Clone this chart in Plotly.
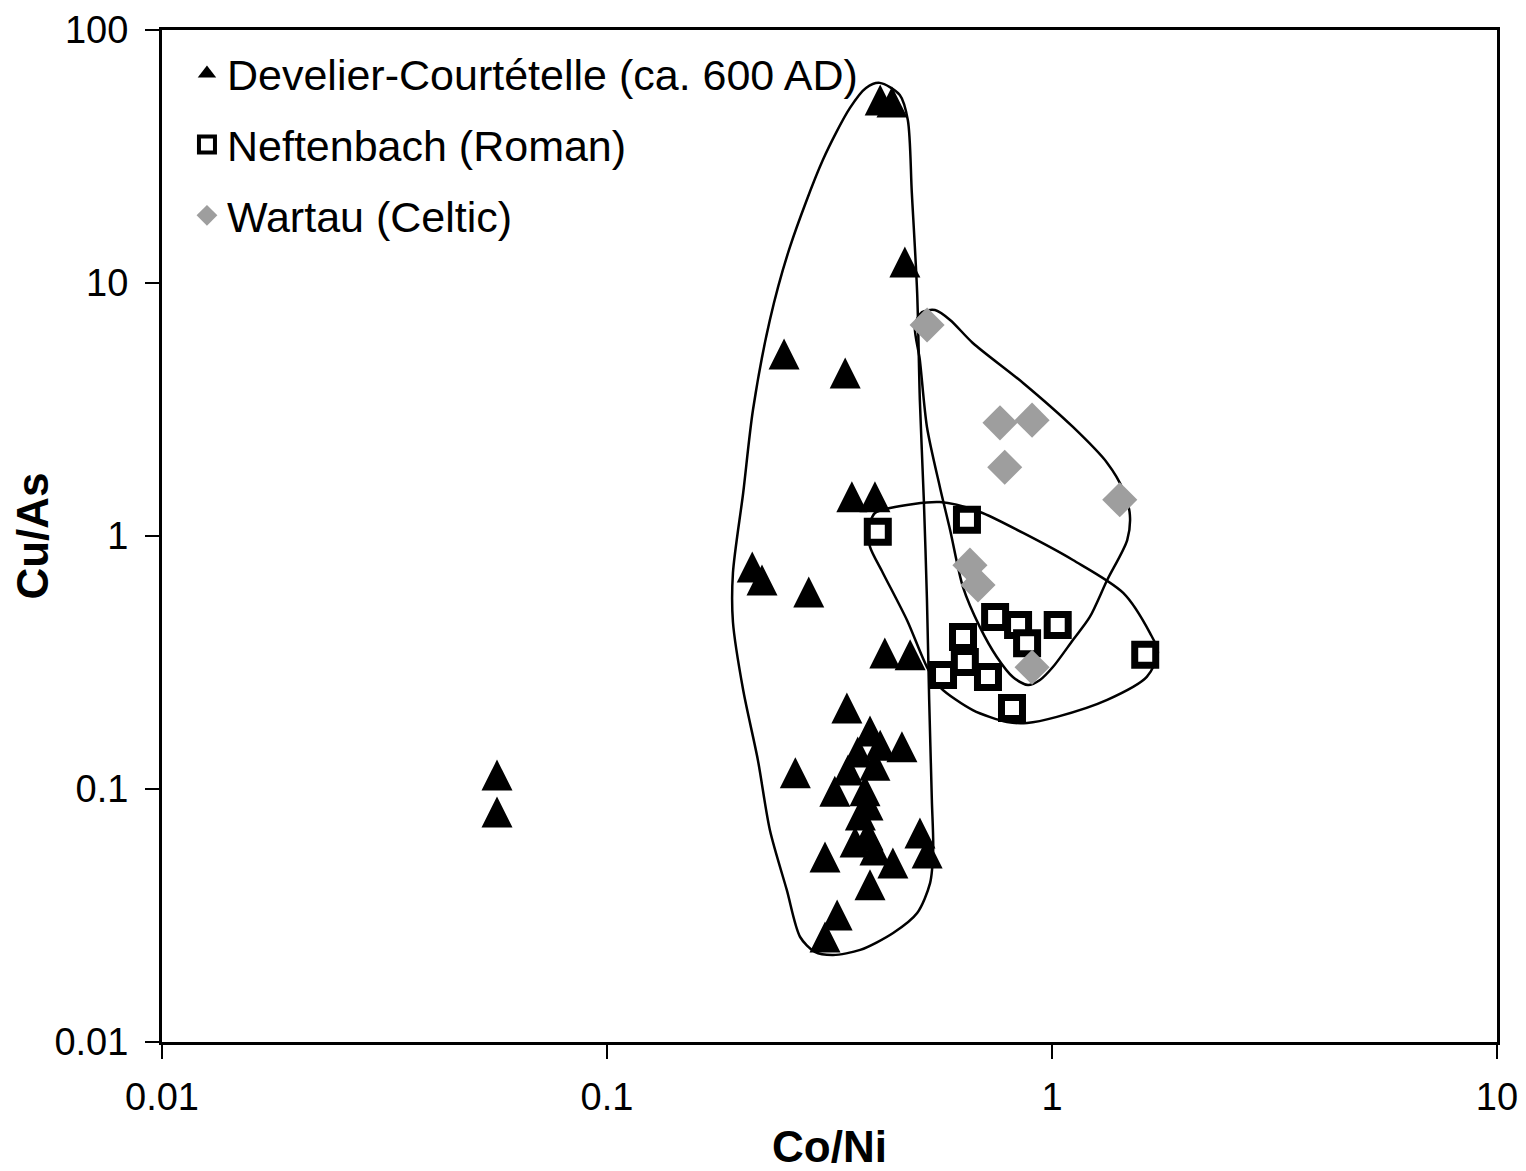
import plotly.graph_objects as go

# ---------------- data ----------------
dev_co_ni = [0.411, 0.437, 0.467, 0.250, 0.343, 0.355, 0.400, 0.212, 0.223, 0.284,
             0.421, 0.480, 0.346, 0.265, 0.460, 0.505, 0.524, 0.309, 0.439, 0.390,
             0.329, 0.309, 0.0566, 0.0566,
             0.390, 0.411, 0.366, 0.348, 0.400, 0.325, 0.380, 0.386, 0.371, 0.386,
             0.361, 0.400]
dev_cu_as = [52.9, 51.9, 12.1, 5.24, 4.41, 1.43, 1.43, 0.754, 0.670, 0.601,
             0.345, 0.339, 0.209, 0.116, 0.147, 0.0670, 0.0558, 0.0538, 0.051, 0.0418,
             0.0318, 0.026, 0.1135, 0.0811,
             0.1695, 0.149, 0.140, 0.119, 0.124, 0.098, 0.0985, 0.0865, 0.0789, 0.0658,
             0.0617, 0.0574]

nef_co_ni = [0.406, 0.644, 0.745, 0.839, 1.03, 0.631, 0.879, 0.637, 0.569, 0.718, 0.813, 1.62]
nef_cu_as = [1.04, 1.16, 0.479, 0.445, 0.445, 0.399, 0.377, 0.318, 0.282, 0.277, 0.209, 0.339]

war_co_ni = [0.524, 0.764, 0.902, 0.783, 1.42, 0.654, 0.682, 0.902]
war_cu_as = [6.82, 2.80, 2.87, 1.87, 1.39, 0.767, 0.640, 0.303]

# hand-drawn group outlines (log10 of Co/Ni, log10 of Cu/As)
dev_outline_lx = [-0.387, -0.342, -0.324, -0.315, -0.303, -0.297, -0.288, -0.281, -0.276, -0.270,
                  -0.267, -0.274, -0.303, -0.357, -0.431, -0.492, -0.533, -0.566, -0.596, -0.634,
                  -0.661, -0.694, -0.717, -0.717, -0.694, -0.672, -0.634, -0.589, -0.515, -0.454,
                  -0.418, -0.387]
dev_outline_ly = [1.791, 1.743, 1.644, 1.356, 0.960, 0.538, 0.142, -0.253, -0.648, -1.043,
                  -1.241, -1.372, -1.490, -1.569, -1.636, -1.656, -1.644, -1.585, -1.399, -1.162,
                  -0.885, -0.609, -0.340, -0.146, 0.170, 0.498, 0.854, 1.142, 1.486, 1.692,
                  1.771, 1.791]

war_outline_lx = [-0.308, -0.292, -0.263, -0.229, -0.178, -0.065, 0.047, 0.124, 0.160, 0.175,
                  0.169, 0.124, 0.085, 0.047, 0.002, -0.027, -0.054, -0.088, -0.124, -0.162,
                  -0.200, -0.229, -0.252, -0.281, -0.297, -0.308]
war_outline_ly = [0.834, 0.885, 0.893, 0.854, 0.763, 0.605, 0.431, 0.289, 0.182, 0.083,
                  -0.016, -0.174, -0.320, -0.411, -0.518, -0.569, -0.589, -0.557, -0.478, -0.360,
                  -0.202, 0.024, 0.194, 0.431, 0.696, 0.834]

nef_outline_lx = [-0.413, -0.398, -0.364, -0.252, -0.162, -0.065, 0.047, 0.160, 0.220, 0.238,
                  0.213, 0.124, 0.011, -0.056, -0.101, -0.178, -0.252, -0.281, -0.326, -0.380,
                  -0.409, -0.413]
nef_outline_ly = [0.024, 0.091, 0.111, 0.134, 0.095, 0.012, -0.095, -0.225, -0.383, -0.459,
                  -0.557, -0.648, -0.715, -0.739, -0.735, -0.688, -0.597, -0.518, -0.332, -0.146,
                  -0.043, 0.024]

series_names = ["Develier-Courtételle (ca. 600 AD)", "Neftenbach (Roman)", "Wartau (Celtic)"]
x_tick_vals = [0.01, 0.1, 1, 10]
x_tick_text = ["0.01", "0.1", "1", "10"]
y_tick_vals = [0.01, 0.1, 1, 10, 100]
y_tick_text = ["0.01", "0.1", "1", "10", "100"]

# ---------------- figure ----------------
FONT = "Liberation Sans"
fig = go.Figure()

for lx, ly in [(dev_outline_lx, dev_outline_ly), (war_outline_lx, war_outline_ly),
               (nef_outline_lx, nef_outline_ly)]:
    fig.add_trace(go.Scatter(
        x=[10 ** v for v in lx], y=[10 ** v for v in ly], mode="lines",
        line=dict(color="black", width=2.5, shape="spline", smoothing=0.8),
        showlegend=False, hoverinfo="skip"))

TRI = 31
dev_marker = dict(symbol="arrow-down", angle=180, standoff=TRI / 2, size=TRI,
                  color="black", line=dict(width=0))
nef_marker = dict(symbol="square", size=21, color="white", line=dict(color="black", width=7))
war_marker = dict(symbol="diamond", size=27, color="#9e9e9e", line=dict(width=0))

fig.add_trace(go.Scatter(x=dev_co_ni, y=dev_cu_as, mode="markers", name=series_names[0],
                         legendgroup="a", showlegend=False, marker=dev_marker))
fig.add_trace(go.Scatter(x=nef_co_ni, y=nef_cu_as, mode="markers", name=series_names[1],
                         legendgroup="b", showlegend=False, marker=nef_marker))
fig.add_trace(go.Scatter(x=war_co_ni, y=war_cu_as, mode="markers", name=series_names[2],
                         legendgroup="c", showlegend=False, marker=war_marker))

# legend entries (same series, legend glyphs only)
fig.add_trace(go.Scatter(x=[None], y=[None], mode="markers", name=series_names[0],
                         legendgroup="a", marker=dict(symbol="triangle-up", size=16, color="black")))
fig.add_trace(go.Scatter(x=[None], y=[None], mode="markers", name=series_names[1],
                         legendgroup="b", marker=dict(symbol="square", size=16, color="white",
                                                      line=dict(color="black", width=4))))
fig.add_trace(go.Scatter(x=[None], y=[None], mode="markers", name=series_names[2],
                         legendgroup="c", marker=dict(symbol="diamond", size=16, color="#9e9e9e")))

axis_common = dict(
    type="log", showgrid=False, zeroline=False, showline=True, linecolor="black",
    linewidth=3, mirror=True, ticks="outside", ticklen=14, tickwidth=2, tickcolor="black",
    automargin=False, ticklabeloverflow="allow",
    tickfont=dict(family=FONT, size=38, color="black"))

inner_ticks = dict(
    type="log", showgrid=False, zeroline=False, showline=False, ticks="inside",
    ticklen=12, tickwidth=2, tickcolor="black", showticklabels=False, automargin=False)

fig.update_layout(
    width=1518, height=1163,
    margin=dict(l=154, r=29, t=22, b=129),
    paper_bgcolor="white", plot_bgcolor="white",
    xaxis=dict(range=[-2, 1], tickvals=x_tick_vals, ticktext=x_tick_text,
               ticklabelstandoff=5,
               title=dict(text="<b>Co/Ni</b>", font=dict(family=FONT, size=44, color="black"),
                          standoff=18),
               **axis_common),
    yaxis=dict(range=[-2, 2], tickvals=y_tick_vals, ticktext=y_tick_text,
               ticklabelstandoff=9,
               title=dict(text="<b>Cu/As</b>", font=dict(family=FONT, size=44, color="black"),
                          standoff=4),
               **axis_common),
    xaxis2=dict(overlaying="x", anchor="y", side="bottom", range=[-2, 1],
                tickvals=x_tick_vals, **inner_ticks),
    yaxis2=dict(overlaying="y", anchor="x", side="left", range=[-2, 2],
                tickvals=y_tick_vals, **inner_ticks),
    legend=dict(x=0.0187, y=0.991, xanchor="left", yanchor="top",
                font=dict(family=FONT, size=43, color="black"),
                bgcolor="rgba(0,0,0,0)", tracegroupgap=12, itemwidth=30),
    showlegend=True,
)

fig.write_html("out.html")
